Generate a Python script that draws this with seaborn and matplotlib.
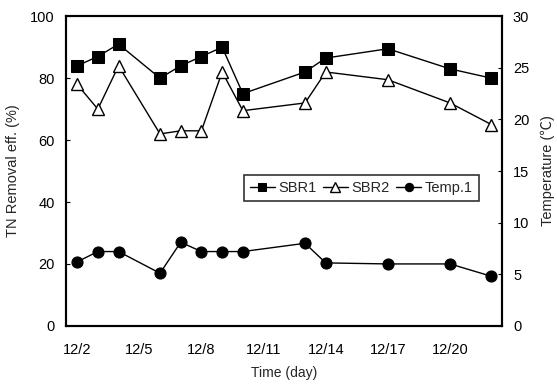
import matplotlib
matplotlib.use("Agg")
import matplotlib.pyplot as plt
import seaborn as sns
import pandas as pd

# Sampling days in December
days = [2, 3, 4, 6, 7, 8, 9, 10, 13, 14, 17, 20, 22]
# TN removal efficiency (%)
sbr1 = [84, 87, 91, 80, 84, 87, 90, 75, 82, 86.5, 89.5, 83, 80]
sbr2 = [78, 70, 84, 62, 63, 63, 82, 69.5, 72, 82, 79.5, 72, 65]
# Water temperature (°C)
temp1 = [6.2, 7.2, 7.2, 5.1, 8.1, 7.2, 7.2, 7.2, 8.0, 6.1, 6.0, 6.0, 4.8]

tick_days = [2, 5, 8, 11, 14, 17, 20]
tick_labels = [f"12/{d}" for d in tick_days]

df = pd.DataFrame({"day": days, "SBR1": sbr1, "SBR2": sbr2, "Temp.1": temp1})

sns.set_theme(style="white")
plt.rcParams["font.family"] = ["Liberation Sans", "DejaVu Sans"]

fig = plt.figure(figsize=(5.57, 3.87), dpi=100)
ax = fig.add_axes([0.118, 0.158, 0.783, 0.80])
ax2 = ax.twinx()

sns.lineplot(data=df, x="day", y="SBR1", ax=ax, color="black", lw=1,
             marker="s", markersize=8, markerfacecolor="black",
             markeredgecolor="black", label="SBR1", legend=False)
sns.lineplot(data=df, x="day", y="SBR2", ax=ax, color="black", lw=1,
             marker="^", markersize=9, markerfacecolor="white",
             markeredgecolor="black", markeredgewidth=1, label="SBR2", legend=False)
sns.lineplot(data=df, x="day", y="Temp.1", ax=ax2, color="black", lw=1,
             marker="o", markersize=8, markerfacecolor="black",
             markeredgecolor="black", label="Temp.1", legend=False)

ax.set_xlim(1.45, 22.5)
ax.set_ylim(0, 100)
ax2.set_ylim(0, 30)
ax.set_xticks(tick_days)
ax.set_xticklabels(tick_labels)
ax.set_yticks(range(0, 101, 20))
ax2.set_yticks(range(0, 31, 5))

ax.set_xlabel("Time (day)", fontsize=10, labelpad=7)
ax.set_ylabel("TN Removal eff. (%)", fontsize=10.5, labelpad=7)
ax2.set_ylabel("Temperature (\u2103)", fontsize=10.5, labelpad=8,
               family=["Liberation Sans", "Noto Sans CJK SC", "DejaVu Sans"])

for a in (ax, ax2):
    a.tick_params(direction="in", length=3, width=0.8, labelsize=10.5, colors="black", pad=8)
    for s in a.spines.values():
        s.set_color("black")
        s.set_linewidth(1.5)
ax.tick_params(axis="x", pad=12)

h1, l1 = ax.get_legend_handles_labels()
h2, l2 = ax2.get_legend_handles_labels()
leg = ax2.legend(h1 + h2, l1 + l2, loc="upper left", bbox_to_anchor=(0.392, 0.51),
                 ncol=3, frameon=True, fancybox=False, fontsize=10.5,
                 handlelength=1.7, handletextpad=0.25, columnspacing=0.45,
                 borderpad=0.4, markerscale=0.75, edgecolor="black")
leg.get_frame().set_linewidth(1.2)

fig.savefig("out.png", dpi=100, facecolor="white")
